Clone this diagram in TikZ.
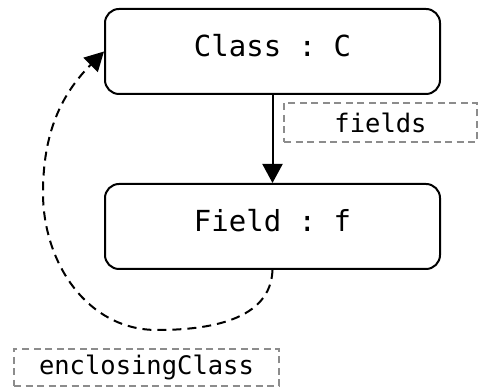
\documentclass[tikz,border=0pt]{standalone}
\usepackage{fontspec}
\setmonofont{DejaVu Sans Mono}
\usepackage{xcolor}
\usetikzlibrary{positioning, arrows.meta}
\definecolor{labelgray}{HTML}{8C8C8C}

\begin{document}
\begin{tikzpicture}[x=1pt, y=1pt, node distance=88pt, >={Triangle[length=19pt,width=20pt]}, line width=2pt,
  objbox/.style={draw, rectangle, rounded corners=14pt, minimum width=335pt, minimum height=85pt, text depth=12pt, font=\fontsize{29}{34}\selectfont\ttfamily},
  rolelabel/.style={draw=labelgray, dash pattern=on 7pt off 4.5pt, line width=1.6pt, inner sep=0pt, font=\fontsize{25.5}{30}\selectfont\ttfamily}]
  \useasboundingbox (0,0) rectangle (479,387);

  % Define blocks
  \node [objbox] (class) at (272.5,335.5) {Class : C};
  \node [objbox, below=of class] (field) {Field : f};

  % Role labels
  \node [rolelabel, minimum width=193pt, minimum height=39pt] (fieldslbl) at (380.5,264.5) {fields};
  \node [rolelabel, minimum width=265pt, minimum height=37pt] (enclosinglbl) at (146.5,19.5) {enclosingClass};

  % Points of the back loop
  \coordinate (loopbottom) at (157,57);
  \coordinate (loopleft) at (43,194);

  % Connect blocks
  \draw [->] (class) -- (field);
  \draw [->, dash pattern=on 9pt off 6pt] (field.south) to[out=-92, in=0] (loopbottom)
    to[out=180, in=-90] (loopleft) to[out=90, in=-135] (class.west);
\end{tikzpicture}
\end{document}
